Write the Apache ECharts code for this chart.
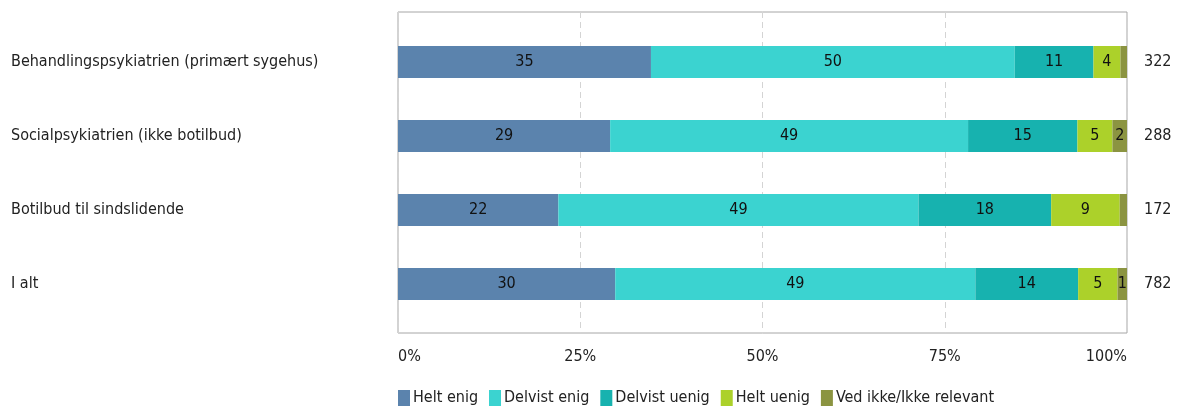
<!DOCTYPE html>
<html lang="da">
  <meta charset="utf-8" />
  <head>
    <title>Svarfordeling</title>
    <script src="https://cdn.jsdelivr.net/npm/echarts@6/dist/echarts.min.js"></script>
  </head>
  <style>
    * {
      margin: 0;
      padding: 0;
    }

    body {
      width: 1179px;
      height: 410px;
      background: #fff;
    }

    #main {
      width: 1179px;
      height: 410px;
    }
  </style>
  <body>
    <div id="main"></div>
    <script>
      const categories = [
        "Behandlingspsykiatrien (primært sygehus)",
        "Socialpsykiatrien (ikke botilbud)",
        "Botilbud til sindslidende",
        "I alt",
      ];
      const totals = ["322", "288", "172", "782"];
      const seriesNames = [
        "Helt enig",
        "Delvist enig",
        "Delvist uenig",
        "Helt uenig",
        "Ved ikke/Ikke relevant",
      ];
      const heltEnig = [34.7, 29.1, 22.0, 29.8];
      const delvistEnig = [49.9, 49.1, 49.4, 49.4];
      const delvistUenig = [10.8, 15.0, 18.2, 14.1];
      const heltUenig = [3.7, 4.8, 9.4, 5.4];
      const vedIkke = [0.9, 2.0, 1.0, 1.3];
      const xTicks = [0, 25, 50, 75, 100];

      const colors = ["#5b83ad", "#3bd3d0", "#17b2af", "#acd12a", "#8b9441"];
      const font = "'DejaVu Sans Condensed', 'DejaVu Sans', sans-serif";

      const chart = echarts.init(document.getElementById("main"));

      function makeSeries(name, values, i) {
        return {
          name: name,
          type: "bar",
          stack: "total",
          xAxisIndex: 1,
          yAxisIndex: 1,
          barWidth: 32,
          data: values,
          itemStyle: { color: colors[i] },
          label: {
            show: true,
            position: "inside",
            color: "#111",
            fontFamily: font,
            fontSize: 16,
            formatter: function (p) {
              return p.value >= 1.2 ? Math.round(p.value) : "";
            },
          },
        };
      }

      const series = [heltEnig, delvistEnig, delvistUenig, heltUenig, vedIkke].map(
        (vals, i) => makeSeries(seriesNames[i], vals, i)
      );

      const option = {
        animation: false,
        textStyle: { fontFamily: font },
        legend: {
          data: seriesNames,
          left: 398,
          top: 390,
          padding: 0,
          icon: "rect",
          itemWidth: 12,
          itemHeight: 16,
          itemGap: 11,
          textStyle: { fontFamily: font, fontSize: 16, color: "#222", padding: [0, 0, 0, -2] },
        },
        grid: [
          { left: 398, right: 52, top: 12, height: 321, show: true, borderColor: "#a6a6a6", borderWidth: 1 },
          { left: 398, right: 52, top: 25, height: 296 },
        ],
        xAxis: [
          {
            gridIndex: 0,
            type: "value",
            min: xTicks[0],
            max: xTicks[xTicks.length - 1],
            interval: 25,
            axisLine: { show: false },
            axisTick: { show: false },
            splitLine: { lineStyle: { type: [6, 4], color: "#d4d4d4" } },
            axisLabel: {
              margin: 16,
              color: "#222",
              fontFamily: font,
              fontSize: 16,
              alignMinLabel: "left",
              alignMaxLabel: "right",
              formatter: "{value}%",
            },
          },
          { gridIndex: 1, type: "value", min: 0, max: 100, show: false },
        ],
        yAxis: [
          { gridIndex: 0, type: "value", show: false },
          {
            gridIndex: 1,
            type: "category",
            data: categories,
            inverse: true,
            axisLine: { show: false },
            axisTick: { show: false },
            axisLabel: {
              align: "left",
              margin: 387,
              color: "#222",
              fontFamily: font,
              fontSize: 16,
            },
          },
          {
            gridIndex: 1,
            type: "category",
            position: "right",
            data: totals,
            inverse: true,
            axisLine: { show: false },
            axisTick: { show: false },
            axisLabel: {
              align: "left",
              margin: 17,
              color: "#222",
              fontFamily: font,
              fontSize: 16,
            },
          },
        ],
        series: series,
      };

      chart.setOption(option);
    </script>
  </body>
</html>
